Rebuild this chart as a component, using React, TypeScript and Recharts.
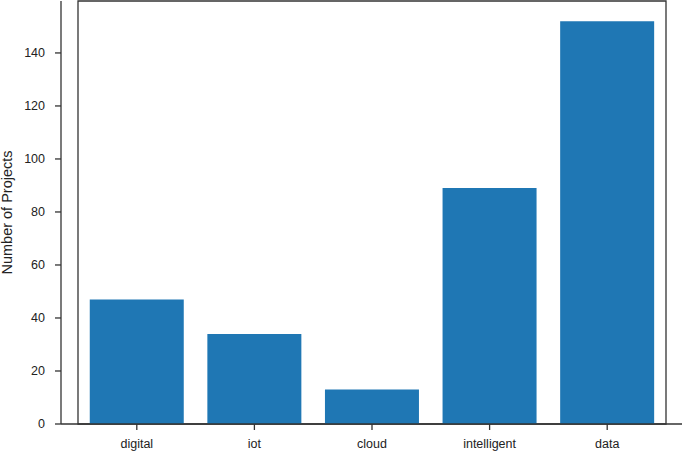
import { BarChart, Bar, XAxis, YAxis, ReferenceArea } from "recharts";

const categories = ["digital", "iot", "cloud", "intelligent", "data"];
const projectCounts = [47, 34, 13, 89, 152];
const yTicks = [0, 20, 40, 60, 80, 100, 120, 140];
const yMax = 159.6;

const data = categories.map((name, i) => ({ name, projects: projectCounts[i] }));

const font = { fontFamily: "'Liberation Sans', Arial, sans-serif", fontSize: 12.5, fill: "#222" };
const axisStroke = { stroke: "#333", strokeWidth: 1.3 };

export default function App() {
  return (
    <div style={{ position: "absolute", left: 0, top: 0, background: "#fff" }}>
      <BarChart
        width={685}
        height={453}
        data={data}
        margin={{ top: 1, right: 3, bottom: 0, left: 0 }}
        barCategoryGap="10%"
      >
        <XAxis
          dataKey="name"
          height={29}
          padding={{ left: 17, right: 16 }}
          tick={font}
          tickSize={6}
          tickMargin={9}
          tickLine={axisStroke}
          axisLine={axisStroke}
        />
        <YAxis
          width={61}
          domain={[0, yMax]}
          ticks={yTicks}
          tick={font}
          tickSize={6}
          tickMargin={10}
          tickLine={axisStroke}
          axisLine={axisStroke}
          label={{
            value: "Number of Projects",
            angle: -90,
            position: "insideLeft",
            offset: 6.5,
            textAnchor: "middle",
            style: { ...font, fontSize: 14.5 },
          }}
        />
        <Bar dataKey="projects" fill="#1f77b4" isAnimationActive={false} />
        {/* full frame like matplotlib spines */}
        <ReferenceArea y1={0} y2={yMax} fill="none" stroke="#333" strokeWidth={1.3} fillOpacity={0} />
      </BarChart>
    </div>
  );
}
